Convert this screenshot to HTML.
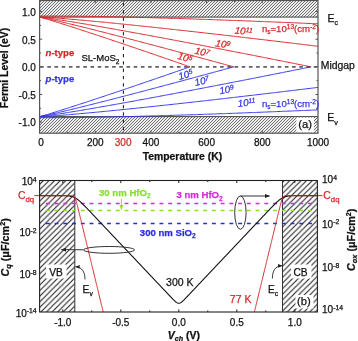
<!DOCTYPE html><html><head><meta charset="utf-8"><style>html,body{margin:0;padding:0;background:#fff;}svg{display:block;filter:blur(0.25px)}</style></head><body>
<svg width="358" height="341" viewBox="0 0 358 341" font-family="Liberation Sans, sans-serif">
<defs>
<pattern id="hA" patternUnits="userSpaceOnUse" width="3" height="3"><rect width="3" height="3" fill="#eeeeee"/><path d="M-1,1 L1,-1 M0,3 L3,0 M2,4 L4,2" stroke="#505050" stroke-width="0.8"/></pattern>
<pattern id="hB" patternUnits="userSpaceOnUse" width="5.6" height="5.6"><path d="M-1,1 L1,-1 M0,5.6 L5.6,0 M4.6,6.6 L6.6,4.6" stroke="#222" stroke-width="1.1"/></pattern>
<marker id="arr" viewBox="0 0 10 10" refX="9" refY="5" markerWidth="5" markerHeight="5" orient="auto-start-reverse"><path d="M0,1 L10,5 L0,9 z" fill="#222"/></marker>
<marker id="arrg" viewBox="0 0 10 10" refX="9" refY="5" markerWidth="5" markerHeight="5" orient="auto"><path d="M0,1 L10,5 L0,9 z" fill="#84e22a"/></marker>
<clipPath id="cA"><rect x="39.60" y="0.50" width="278.40" height="132.70"/></clipPath>
<clipPath id="cB"><rect x="39.60" y="180.50" width="277.80" height="131.50"/></clipPath>
</defs>
<rect x="39.60" y="0.50" width="278.40" height="16.59" fill="url(#hA)"/>
<rect x="39.60" y="116.61" width="278.40" height="16.59" fill="url(#hA)"/>
<line x1="39.60" y1="17.09" x2="318.00" y2="17.09" stroke="#444" stroke-width="1"/>
<line x1="39.60" y1="116.61" x2="318.00" y2="116.61" stroke="#444" stroke-width="1"/>
<rect x="296.3" y="117.6" width="17.6" height="15" fill="#fff"/>
<line x1="40.10" y1="66.85" x2="318.00" y2="66.85" stroke="#606060" stroke-width="1.7" stroke-dasharray="3.6 3.6"/>
<line x1="123.4" y1="0.50" x2="123.4" y2="133.20" stroke="#111" stroke-width="1" stroke-dasharray="3.3 4" stroke-dashoffset="-2.4"/>
<g clip-path="url(#cA)" fill="none" stroke-width="1">
<path d="M39.60,17.09 L40.71,17.36 L41.83,17.66 L42.94,17.98 L44.05,18.29 L45.17,18.62 L46.28,18.94 L47.40,19.27 L48.51,19.60 L49.62,19.94 L50.74,20.28 L51.85,20.61 L52.96,20.95 L54.08,21.30 L55.19,21.64 L56.30,21.99 L57.42,22.33 L58.53,22.68 L59.64,23.03 L60.76,23.38 L61.87,23.73 L62.99,24.08 L64.10,24.43 L65.21,24.78 L66.33,25.14 L67.44,25.49 L68.55,25.85 L69.67,26.21 L70.78,26.56 L71.89,26.92 L73.01,27.28 L74.12,27.64 L75.24,28.00 L76.35,28.36 L77.46,28.72 L78.58,29.08 L79.69,29.44 L80.80,29.81 L81.92,30.17 L83.03,30.53 L84.14,30.90 L85.26,31.26 L86.37,31.63 L87.48,31.99 L88.60,32.36 L89.71,32.72 L90.83,33.09 L91.94,33.46 L93.05,33.82 L94.17,34.19 L95.28,34.56 L96.39,34.93 L97.51,35.30 L98.62,35.67 L99.73,36.04 L100.85,36.41 L101.96,36.78 L103.08,37.15 L104.19,37.52 L105.30,37.89 L106.42,38.26 L107.53,38.64 L108.64,39.01 L109.76,39.38 L110.87,39.75 L111.98,40.13 L113.10,40.50 L114.21,40.88 L115.32,41.25 L116.44,41.62 L117.55,42.00 L118.67,42.37 L119.78,42.75 L120.89,43.13 L122.01,43.50 L123.12,43.88 L124.23,44.25 L125.35,44.63 L126.46,45.01 L127.57,45.38 L128.69,45.76 L129.80,46.14 L130.92,46.52 L132.03,46.90 L133.14,47.27 L134.26,47.65 L135.37,48.03 L136.48,48.41 L137.60,48.79 L138.71,49.17 L139.82,49.55 L140.94,49.93 L142.05,50.31 L143.16,50.69 L144.28,51.07 L145.39,51.45 L146.51,51.83 L147.62,52.21 L148.73,52.59 L149.85,52.97 L150.96,53.36 L152.07,53.74 L153.19,54.12 L154.30,54.50 L155.41,54.88 L156.53,55.27 L157.64,55.65 L158.76,56.03 L159.87,56.42 L160.98,56.80 L162.10,57.18 L163.21,57.57 L164.32,57.95 L165.44,58.33 L166.55,58.72 L167.66,59.10 L168.78,59.49 L169.89,59.87 L171.00,60.26 L172.12,60.64 L173.23,61.03 L174.35,61.41 L175.46,61.80 L176.57,62.18 L177.69,62.57 L178.80,62.95 L179.91,63.34 L181.03,63.73 L182.14,64.11 L183.25,64.50 L184.37,64.89 L185.48,65.27 L186.60,65.66 L187.71,66.05 L188.82,66.43 L189.94,66.82 L190.02,66.85" stroke="#d8262a"/>
<path d="M39.60,116.61 L40.71,116.34 L41.83,116.04 L42.94,115.72 L44.05,115.41 L45.17,115.08 L46.28,114.76 L47.40,114.43 L48.51,114.10 L49.62,113.76 L50.74,113.42 L51.85,113.09 L52.96,112.75 L54.08,112.40 L55.19,112.06 L56.30,111.71 L57.42,111.37 L58.53,111.02 L59.64,110.67 L60.76,110.32 L61.87,109.97 L62.99,109.62 L64.10,109.27 L65.21,108.92 L66.33,108.56 L67.44,108.21 L68.55,107.85 L69.67,107.49 L70.78,107.14 L71.89,106.78 L73.01,106.42 L74.12,106.06 L75.24,105.70 L76.35,105.34 L77.46,104.98 L78.58,104.62 L79.69,104.26 L80.80,103.89 L81.92,103.53 L83.03,103.17 L84.14,102.80 L85.26,102.44 L86.37,102.07 L87.48,101.71 L88.60,101.34 L89.71,100.98 L90.83,100.61 L91.94,100.24 L93.05,99.88 L94.17,99.51 L95.28,99.14 L96.39,98.77 L97.51,98.40 L98.62,98.03 L99.73,97.66 L100.85,97.29 L101.96,96.92 L103.08,96.55 L104.19,96.18 L105.30,95.81 L106.42,95.44 L107.53,95.06 L108.64,94.69 L109.76,94.32 L110.87,93.95 L111.98,93.57 L113.10,93.20 L114.21,92.82 L115.32,92.45 L116.44,92.08 L117.55,91.70 L118.67,91.33 L119.78,90.95 L120.89,90.57 L122.01,90.20 L123.12,89.82 L124.23,89.45 L125.35,89.07 L126.46,88.69 L127.57,88.32 L128.69,87.94 L129.80,87.56 L130.92,87.18 L132.03,86.80 L133.14,86.43 L134.26,86.05 L135.37,85.67 L136.48,85.29 L137.60,84.91 L138.71,84.53 L139.82,84.15 L140.94,83.77 L142.05,83.39 L143.16,83.01 L144.28,82.63 L145.39,82.25 L146.51,81.87 L147.62,81.49 L148.73,81.11 L149.85,80.73 L150.96,80.34 L152.07,79.96 L153.19,79.58 L154.30,79.20 L155.41,78.82 L156.53,78.43 L157.64,78.05 L158.76,77.67 L159.87,77.28 L160.98,76.90 L162.10,76.52 L163.21,76.13 L164.32,75.75 L165.44,75.37 L166.55,74.98 L167.66,74.60 L168.78,74.21 L169.89,73.83 L171.00,73.44 L172.12,73.06 L173.23,72.67 L174.35,72.29 L175.46,71.90 L176.57,71.52 L177.69,71.13 L178.80,70.75 L179.91,70.36 L181.03,69.97 L182.14,69.59 L183.25,69.20 L184.37,68.81 L185.48,68.43 L186.60,68.04 L187.71,67.65 L188.82,67.27 L189.94,66.88 L190.02,66.85" stroke="#3434ec"/>
<path d="M39.60,17.09 L40.71,17.27 L41.83,17.49 L42.94,17.71 L44.05,17.94 L45.17,18.18 L46.28,18.42 L47.40,18.66 L48.51,18.90 L49.62,19.15 L50.74,19.40 L51.85,19.65 L52.96,19.90 L54.08,20.16 L55.19,20.41 L56.30,20.67 L57.42,20.93 L58.53,21.19 L59.64,21.45 L60.76,21.71 L61.87,21.97 L62.99,22.24 L64.10,22.50 L65.21,22.77 L66.33,23.03 L67.44,23.30 L68.55,23.57 L69.67,23.84 L70.78,24.11 L71.89,24.38 L73.01,24.65 L74.12,24.92 L75.24,25.19 L76.35,25.46 L77.46,25.74 L78.58,26.01 L79.69,26.28 L80.80,26.56 L81.92,26.83 L83.03,27.11 L84.14,27.39 L85.26,27.66 L86.37,27.94 L87.48,28.22 L88.60,28.50 L89.71,28.77 L90.83,29.05 L91.94,29.33 L93.05,29.61 L94.17,29.89 L95.28,30.17 L96.39,30.45 L97.51,30.74 L98.62,31.02 L99.73,31.30 L100.85,31.58 L101.96,31.86 L103.08,32.15 L104.19,32.43 L105.30,32.71 L106.42,33.00 L107.53,33.28 L108.64,33.57 L109.76,33.85 L110.87,34.14 L111.98,34.42 L113.10,34.71 L114.21,35.00 L115.32,35.28 L116.44,35.57 L117.55,35.86 L118.67,36.14 L119.78,36.43 L120.89,36.72 L122.01,37.01 L123.12,37.29 L124.23,37.58 L125.35,37.87 L126.46,38.16 L127.57,38.45 L128.69,38.74 L129.80,39.03 L130.92,39.32 L132.03,39.61 L133.14,39.90 L134.26,40.19 L135.37,40.48 L136.48,40.77 L137.60,41.07 L138.71,41.36 L139.82,41.65 L140.94,41.94 L142.05,42.23 L143.16,42.53 L144.28,42.82 L145.39,43.11 L146.51,43.40 L147.62,43.70 L148.73,43.99 L149.85,44.29 L150.96,44.58 L152.07,44.87 L153.19,45.17 L154.30,45.46 L155.41,45.76 L156.53,46.05 L157.64,46.35 L158.76,46.64 L159.87,46.94 L160.98,47.23 L162.10,47.53 L163.21,47.82 L164.32,48.12 L165.44,48.42 L166.55,48.71 L167.66,49.01 L168.78,49.31 L169.89,49.60 L171.00,49.90 L172.12,50.20 L173.23,50.49 L174.35,50.79 L175.46,51.09 L176.57,51.39 L177.69,51.69 L178.80,51.98 L179.91,52.28 L181.03,52.58 L182.14,52.88 L183.25,53.18 L184.37,53.48 L185.48,53.78 L186.60,54.07 L187.71,54.37 L188.82,54.67 L189.94,54.97 L191.05,55.27 L192.16,55.57 L193.28,55.87 L194.39,56.17 L195.50,56.47 L196.62,56.77 L197.73,57.07 L198.84,57.38 L199.96,57.68 L201.07,57.98 L202.19,58.28 L203.30,58.58 L204.41,58.88 L205.53,59.18 L206.64,59.48 L207.75,59.79 L208.87,60.09 L209.98,60.39 L211.09,60.69 L212.21,60.99 L213.32,61.30 L214.44,61.60 L215.55,61.90 L216.66,62.20 L217.78,62.51 L218.89,62.81 L220.00,63.11 L221.12,63.42 L222.23,63.72 L223.34,64.02 L224.46,64.33 L225.57,64.63 L226.68,64.93 L227.80,65.24 L228.91,65.54 L230.03,65.85 L231.14,66.15 L232.25,66.46 L233.37,66.76 L233.70,66.85" stroke="#d8262a"/>
<path d="M39.60,116.61 L40.71,116.43 L41.83,116.21 L42.94,115.99 L44.05,115.76 L45.17,115.52 L46.28,115.28 L47.40,115.04 L48.51,114.80 L49.62,114.55 L50.74,114.30 L51.85,114.05 L52.96,113.80 L54.08,113.54 L55.19,113.29 L56.30,113.03 L57.42,112.77 L58.53,112.51 L59.64,112.25 L60.76,111.99 L61.87,111.73 L62.99,111.46 L64.10,111.20 L65.21,110.93 L66.33,110.67 L67.44,110.40 L68.55,110.13 L69.67,109.86 L70.78,109.59 L71.89,109.32 L73.01,109.05 L74.12,108.78 L75.24,108.51 L76.35,108.24 L77.46,107.96 L78.58,107.69 L79.69,107.42 L80.80,107.14 L81.92,106.87 L83.03,106.59 L84.14,106.31 L85.26,106.04 L86.37,105.76 L87.48,105.48 L88.60,105.20 L89.71,104.93 L90.83,104.65 L91.94,104.37 L93.05,104.09 L94.17,103.81 L95.28,103.53 L96.39,103.25 L97.51,102.96 L98.62,102.68 L99.73,102.40 L100.85,102.12 L101.96,101.84 L103.08,101.55 L104.19,101.27 L105.30,100.99 L106.42,100.70 L107.53,100.42 L108.64,100.13 L109.76,99.85 L110.87,99.56 L111.98,99.28 L113.10,98.99 L114.21,98.70 L115.32,98.42 L116.44,98.13 L117.55,97.84 L118.67,97.56 L119.78,97.27 L120.89,96.98 L122.01,96.69 L123.12,96.41 L124.23,96.12 L125.35,95.83 L126.46,95.54 L127.57,95.25 L128.69,94.96 L129.80,94.67 L130.92,94.38 L132.03,94.09 L133.14,93.80 L134.26,93.51 L135.37,93.22 L136.48,92.93 L137.60,92.63 L138.71,92.34 L139.82,92.05 L140.94,91.76 L142.05,91.47 L143.16,91.17 L144.28,90.88 L145.39,90.59 L146.51,90.30 L147.62,90.00 L148.73,89.71 L149.85,89.41 L150.96,89.12 L152.07,88.83 L153.19,88.53 L154.30,88.24 L155.41,87.94 L156.53,87.65 L157.64,87.35 L158.76,87.06 L159.87,86.76 L160.98,86.47 L162.10,86.17 L163.21,85.88 L164.32,85.58 L165.44,85.28 L166.55,84.99 L167.66,84.69 L168.78,84.39 L169.89,84.10 L171.00,83.80 L172.12,83.50 L173.23,83.21 L174.35,82.91 L175.46,82.61 L176.57,82.31 L177.69,82.01 L178.80,81.72 L179.91,81.42 L181.03,81.12 L182.14,80.82 L183.25,80.52 L184.37,80.22 L185.48,79.92 L186.60,79.63 L187.71,79.33 L188.82,79.03 L189.94,78.73 L191.05,78.43 L192.16,78.13 L193.28,77.83 L194.39,77.53 L195.50,77.23 L196.62,76.93 L197.73,76.63 L198.84,76.32 L199.96,76.02 L201.07,75.72 L202.19,75.42 L203.30,75.12 L204.41,74.82 L205.53,74.52 L206.64,74.22 L207.75,73.91 L208.87,73.61 L209.98,73.31 L211.09,73.01 L212.21,72.71 L213.32,72.40 L214.44,72.10 L215.55,71.80 L216.66,71.50 L217.78,71.19 L218.89,70.89 L220.00,70.59 L221.12,70.28 L222.23,69.98 L223.34,69.68 L224.46,69.37 L225.57,69.07 L226.68,68.77 L227.80,68.46 L228.91,68.16 L230.03,67.85 L231.14,67.55 L232.25,67.24 L233.37,66.94 L233.70,66.85" stroke="#3434ec"/>
<path d="M39.60,17.09 L40.71,17.19 L41.83,17.31 L42.94,17.45 L44.05,17.59 L45.17,17.74 L46.28,17.89 L47.40,18.04 L48.51,18.20 L49.62,18.36 L50.74,18.52 L51.85,18.68 L52.96,18.85 L54.08,19.01 L55.19,19.18 L56.30,19.35 L57.42,19.52 L58.53,19.69 L59.64,19.87 L60.76,20.04 L61.87,20.22 L62.99,20.39 L64.10,20.57 L65.21,20.75 L66.33,20.93 L67.44,21.11 L68.55,21.29 L69.67,21.47 L70.78,21.65 L71.89,21.83 L73.01,22.01 L74.12,22.20 L75.24,22.38 L76.35,22.57 L77.46,22.75 L78.58,22.94 L79.69,23.12 L80.80,23.31 L81.92,23.50 L83.03,23.69 L84.14,23.87 L85.26,24.06 L86.37,24.25 L87.48,24.44 L88.60,24.63 L89.71,24.82 L90.83,25.02 L91.94,25.21 L93.05,25.40 L94.17,25.59 L95.28,25.78 L96.39,25.98 L97.51,26.17 L98.62,26.37 L99.73,26.56 L100.85,26.75 L101.96,26.95 L103.08,27.14 L104.19,27.34 L105.30,27.54 L106.42,27.73 L107.53,27.93 L108.64,28.13 L109.76,28.32 L110.87,28.52 L111.98,28.72 L113.10,28.92 L114.21,29.12 L115.32,29.31 L116.44,29.51 L117.55,29.71 L118.67,29.91 L119.78,30.11 L120.89,30.31 L122.01,30.51 L123.12,30.71 L124.23,30.91 L125.35,31.11 L126.46,31.32 L127.57,31.52 L128.69,31.72 L129.80,31.92 L130.92,32.12 L132.03,32.33 L133.14,32.53 L134.26,32.73 L135.37,32.94 L136.48,33.14 L137.60,33.34 L138.71,33.55 L139.82,33.75 L140.94,33.95 L142.05,34.16 L143.16,34.36 L144.28,34.57 L145.39,34.77 L146.51,34.98 L147.62,35.18 L148.73,35.39 L149.85,35.60 L150.96,35.80 L152.07,36.01 L153.19,36.22 L154.30,36.42 L155.41,36.63 L156.53,36.84 L157.64,37.04 L158.76,37.25 L159.87,37.46 L160.98,37.67 L162.10,37.87 L163.21,38.08 L164.32,38.29 L165.44,38.50 L166.55,38.71 L167.66,38.92 L168.78,39.13 L169.89,39.33 L171.00,39.54 L172.12,39.75 L173.23,39.96 L174.35,40.17 L175.46,40.38 L176.57,40.59 L177.69,40.80 L178.80,41.01 L179.91,41.22 L181.03,41.43 L182.14,41.64 L183.25,41.86 L184.37,42.07 L185.48,42.28 L186.60,42.49 L187.71,42.70 L188.82,42.91 L189.94,43.12 L191.05,43.34 L192.16,43.55 L193.28,43.76 L194.39,43.97 L195.50,44.19 L196.62,44.40 L197.73,44.61 L198.84,44.82 L199.96,45.04 L201.07,45.25 L202.19,45.46 L203.30,45.68 L204.41,45.89 L205.53,46.11 L206.64,46.32 L207.75,46.53 L208.87,46.75 L209.98,46.96 L211.09,47.18 L212.21,47.39 L213.32,47.61 L214.44,47.82 L215.55,48.03 L216.66,48.25 L217.78,48.46 L218.89,48.68 L220.00,48.90 L221.12,49.11 L222.23,49.33 L223.34,49.54 L224.46,49.76 L225.57,49.97 L226.68,50.19 L227.80,50.41 L228.91,50.62 L230.03,50.84 L231.14,51.06 L232.25,51.27 L233.37,51.49 L234.48,51.71 L235.59,51.92 L236.71,52.14 L237.82,52.36 L238.93,52.57 L240.05,52.79 L241.16,53.01 L242.28,53.23 L243.39,53.44 L244.50,53.66 L245.62,53.88 L246.73,54.10 L247.84,54.32 L248.96,54.53 L250.07,54.75 L251.18,54.97 L252.30,55.19 L253.41,55.41 L254.52,55.63 L255.64,55.84 L256.75,56.06 L257.87,56.28 L258.98,56.50 L260.09,56.72 L261.21,56.94 L262.32,57.16 L263.43,57.38 L264.55,57.60 L265.66,57.82 L266.77,58.04 L267.89,58.26 L269.00,58.48 L270.12,58.70 L271.23,58.92 L272.34,59.14 L273.46,59.36 L274.57,59.58 L275.68,59.80 L276.80,60.02 L277.91,60.24 L279.02,60.46 L280.14,60.68 L281.25,60.90 L282.36,61.12 L283.48,61.35 L284.59,61.57 L285.71,61.79 L286.82,62.01 L287.93,62.23 L289.05,62.45 L290.16,62.67 L291.27,62.90 L292.39,63.12 L293.50,63.34 L294.61,63.56 L295.73,63.78 L296.84,64.01 L297.96,64.23 L299.07,64.45 L300.18,64.67 L301.30,64.89 L302.41,65.12 L303.52,65.34 L304.64,65.56 L305.75,65.79 L306.86,66.01 L307.98,66.23 L309.09,66.45 L310.20,66.68 L311.07,66.85" stroke="#d8262a"/>
<path d="M39.60,116.61 L40.71,116.51 L41.83,116.39 L42.94,116.25 L44.05,116.11 L45.17,115.96 L46.28,115.81 L47.40,115.66 L48.51,115.50 L49.62,115.34 L50.74,115.18 L51.85,115.02 L52.96,114.85 L54.08,114.69 L55.19,114.52 L56.30,114.35 L57.42,114.18 L58.53,114.01 L59.64,113.83 L60.76,113.66 L61.87,113.48 L62.99,113.31 L64.10,113.13 L65.21,112.95 L66.33,112.77 L67.44,112.59 L68.55,112.41 L69.67,112.23 L70.78,112.05 L71.89,111.87 L73.01,111.69 L74.12,111.50 L75.24,111.32 L76.35,111.13 L77.46,110.95 L78.58,110.76 L79.69,110.58 L80.80,110.39 L81.92,110.20 L83.03,110.01 L84.14,109.83 L85.26,109.64 L86.37,109.45 L87.48,109.26 L88.60,109.07 L89.71,108.88 L90.83,108.68 L91.94,108.49 L93.05,108.30 L94.17,108.11 L95.28,107.92 L96.39,107.72 L97.51,107.53 L98.62,107.33 L99.73,107.14 L100.85,106.95 L101.96,106.75 L103.08,106.56 L104.19,106.36 L105.30,106.16 L106.42,105.97 L107.53,105.77 L108.64,105.57 L109.76,105.38 L110.87,105.18 L111.98,104.98 L113.10,104.78 L114.21,104.58 L115.32,104.39 L116.44,104.19 L117.55,103.99 L118.67,103.79 L119.78,103.59 L120.89,103.39 L122.01,103.19 L123.12,102.99 L124.23,102.79 L125.35,102.59 L126.46,102.38 L127.57,102.18 L128.69,101.98 L129.80,101.78 L130.92,101.58 L132.03,101.37 L133.14,101.17 L134.26,100.97 L135.37,100.76 L136.48,100.56 L137.60,100.36 L138.71,100.15 L139.82,99.95 L140.94,99.75 L142.05,99.54 L143.16,99.34 L144.28,99.13 L145.39,98.93 L146.51,98.72 L147.62,98.52 L148.73,98.31 L149.85,98.10 L150.96,97.90 L152.07,97.69 L153.19,97.48 L154.30,97.28 L155.41,97.07 L156.53,96.86 L157.64,96.66 L158.76,96.45 L159.87,96.24 L160.98,96.03 L162.10,95.83 L163.21,95.62 L164.32,95.41 L165.44,95.20 L166.55,94.99 L167.66,94.78 L168.78,94.57 L169.89,94.37 L171.00,94.16 L172.12,93.95 L173.23,93.74 L174.35,93.53 L175.46,93.32 L176.57,93.11 L177.69,92.90 L178.80,92.69 L179.91,92.48 L181.03,92.27 L182.14,92.06 L183.25,91.84 L184.37,91.63 L185.48,91.42 L186.60,91.21 L187.71,91.00 L188.82,90.79 L189.94,90.58 L191.05,90.36 L192.16,90.15 L193.28,89.94 L194.39,89.73 L195.50,89.51 L196.62,89.30 L197.73,89.09 L198.84,88.88 L199.96,88.66 L201.07,88.45 L202.19,88.24 L203.30,88.02 L204.41,87.81 L205.53,87.59 L206.64,87.38 L207.75,87.17 L208.87,86.95 L209.98,86.74 L211.09,86.52 L212.21,86.31 L213.32,86.09 L214.44,85.88 L215.55,85.67 L216.66,85.45 L217.78,85.24 L218.89,85.02 L220.00,84.80 L221.12,84.59 L222.23,84.37 L223.34,84.16 L224.46,83.94 L225.57,83.73 L226.68,83.51 L227.80,83.29 L228.91,83.08 L230.03,82.86 L231.14,82.64 L232.25,82.43 L233.37,82.21 L234.48,81.99 L235.59,81.78 L236.71,81.56 L237.82,81.34 L238.93,81.13 L240.05,80.91 L241.16,80.69 L242.28,80.47 L243.39,80.26 L244.50,80.04 L245.62,79.82 L246.73,79.60 L247.84,79.38 L248.96,79.17 L250.07,78.95 L251.18,78.73 L252.30,78.51 L253.41,78.29 L254.52,78.07 L255.64,77.86 L256.75,77.64 L257.87,77.42 L258.98,77.20 L260.09,76.98 L261.21,76.76 L262.32,76.54 L263.43,76.32 L264.55,76.10 L265.66,75.88 L266.77,75.66 L267.89,75.44 L269.00,75.22 L270.12,75.00 L271.23,74.78 L272.34,74.56 L273.46,74.34 L274.57,74.12 L275.68,73.90 L276.80,73.68 L277.91,73.46 L279.02,73.24 L280.14,73.02 L281.25,72.80 L282.36,72.58 L283.48,72.35 L284.59,72.13 L285.71,71.91 L286.82,71.69 L287.93,71.47 L289.05,71.25 L290.16,71.03 L291.27,70.80 L292.39,70.58 L293.50,70.36 L294.61,70.14 L295.73,69.92 L296.84,69.69 L297.96,69.47 L299.07,69.25 L300.18,69.03 L301.30,68.81 L302.41,68.58 L303.52,68.36 L304.64,68.14 L305.75,67.91 L306.86,67.69 L307.98,67.47 L309.09,67.25 L310.20,67.02 L311.07,66.85" stroke="#3434ec"/>
<path d="M39.60,17.09 L40.71,17.09 L41.83,17.13 L42.94,17.18 L44.05,17.23 L45.17,17.29 L46.28,17.36 L47.40,17.42 L48.51,17.49 L49.62,17.56 L50.74,17.64 L51.85,17.71 L52.96,17.79 L54.08,17.87 L55.19,17.95 L56.30,18.03 L57.42,18.11 L58.53,18.20 L59.64,18.28 L60.76,18.37 L61.87,18.46 L62.99,18.54 L64.10,18.63 L65.21,18.72 L66.33,18.81 L67.44,18.91 L68.55,19.00 L69.67,19.09 L70.78,19.19 L71.89,19.28 L73.01,19.38 L74.12,19.47 L75.24,19.57 L76.35,19.66 L77.46,19.76 L78.58,19.86 L79.69,19.96 L80.80,20.06 L81.92,20.16 L83.03,20.26 L84.14,20.36 L85.26,20.46 L86.37,20.56 L87.48,20.66 L88.60,20.77 L89.71,20.87 L90.83,20.97 L91.94,21.08 L93.05,21.18 L94.17,21.29 L95.28,21.39 L96.39,21.50 L97.51,21.60 L98.62,21.71 L99.73,21.82 L100.85,21.92 L101.96,22.03 L103.08,22.14 L104.19,22.24 L105.30,22.35 L106.42,22.46 L107.53,22.57 L108.64,22.68 L109.76,22.79 L110.87,22.90 L111.98,23.01 L113.10,23.12 L114.21,23.23 L115.32,23.34 L116.44,23.45 L117.55,23.56 L118.67,23.68 L119.78,23.79 L120.89,23.90 L122.01,24.01 L123.12,24.13 L124.23,24.24 L125.35,24.35 L126.46,24.47 L127.57,24.58 L128.69,24.69 L129.80,24.81 L130.92,24.92 L132.03,25.04 L133.14,25.15 L134.26,25.27 L135.37,25.38 L136.48,25.50 L137.60,25.61 L138.71,25.73 L139.82,25.85 L140.94,25.96 L142.05,26.08 L143.16,26.20 L144.28,26.31 L145.39,26.43 L146.51,26.55 L147.62,26.67 L148.73,26.78 L149.85,26.90 L150.96,27.02 L152.07,27.14 L153.19,27.26 L154.30,27.38 L155.41,27.50 L156.53,27.62 L157.64,27.73 L158.76,27.85 L159.87,27.97 L160.98,28.09 L162.10,28.21 L163.21,28.33 L164.32,28.46 L165.44,28.58 L166.55,28.70 L167.66,28.82 L168.78,28.94 L169.89,29.06 L171.00,29.18 L172.12,29.30 L173.23,29.43 L174.35,29.55 L175.46,29.67 L176.57,29.79 L177.69,29.91 L178.80,30.04 L179.91,30.16 L181.03,30.28 L182.14,30.41 L183.25,30.53 L184.37,30.65 L185.48,30.78 L186.60,30.90 L187.71,31.02 L188.82,31.15 L189.94,31.27 L191.05,31.40 L192.16,31.52 L193.28,31.64 L194.39,31.77 L195.50,31.89 L196.62,32.02 L197.73,32.14 L198.84,32.27 L199.96,32.39 L201.07,32.52 L202.19,32.65 L203.30,32.77 L204.41,32.90 L205.53,33.02 L206.64,33.15 L207.75,33.28 L208.87,33.40 L209.98,33.53 L211.09,33.65 L212.21,33.78 L213.32,33.91 L214.44,34.04 L215.55,34.16 L216.66,34.29 L217.78,34.42 L218.89,34.54 L220.00,34.67 L221.12,34.80 L222.23,34.93 L223.34,35.06 L224.46,35.18 L225.57,35.31 L226.68,35.44 L227.80,35.57 L228.91,35.70 L230.03,35.83 L231.14,35.95 L232.25,36.08 L233.37,36.21 L234.48,36.34 L235.59,36.47 L236.71,36.60 L237.82,36.73 L238.93,36.86 L240.05,36.99 L241.16,37.12 L242.28,37.25 L243.39,37.38 L244.50,37.51 L245.62,37.64 L246.73,37.77 L247.84,37.90 L248.96,38.03 L250.07,38.16 L251.18,38.29 L252.30,38.42 L253.41,38.55 L254.52,38.68 L255.64,38.81 L256.75,38.94 L257.87,39.08 L258.98,39.21 L260.09,39.34 L261.21,39.47 L262.32,39.60 L263.43,39.73 L264.55,39.86 L265.66,40.00 L266.77,40.13 L267.89,40.26 L269.00,40.39 L270.12,40.53 L271.23,40.66 L272.34,40.79 L273.46,40.92 L274.57,41.06 L275.68,41.19 L276.80,41.32 L277.91,41.45 L279.02,41.59 L280.14,41.72 L281.25,41.85 L282.36,41.99 L283.48,42.12 L284.59,42.25 L285.71,42.39 L286.82,42.52 L287.93,42.65 L289.05,42.79 L290.16,42.92 L291.27,43.06 L292.39,43.19 L293.50,43.32 L294.61,43.46 L295.73,43.59 L296.84,43.73 L297.96,43.86 L299.07,44.00 L300.18,44.13 L301.30,44.26 L302.41,44.40 L303.52,44.53 L304.64,44.67 L305.75,44.80 L306.86,44.94 L307.98,45.07 L309.09,45.21 L310.20,45.34 L311.32,45.48 L312.43,45.62 L313.55,45.75 L314.66,45.89 L315.77,46.02 L316.89,46.16 L318.00,46.29" stroke="#d8262a"/>
<path d="M39.60,116.61 L40.71,116.61 L41.83,116.57 L42.94,116.52 L44.05,116.47 L45.17,116.41 L46.28,116.34 L47.40,116.28 L48.51,116.21 L49.62,116.14 L50.74,116.06 L51.85,115.99 L52.96,115.91 L54.08,115.83 L55.19,115.75 L56.30,115.67 L57.42,115.59 L58.53,115.50 L59.64,115.42 L60.76,115.33 L61.87,115.24 L62.99,115.16 L64.10,115.07 L65.21,114.98 L66.33,114.89 L67.44,114.79 L68.55,114.70 L69.67,114.61 L70.78,114.51 L71.89,114.42 L73.01,114.32 L74.12,114.23 L75.24,114.13 L76.35,114.04 L77.46,113.94 L78.58,113.84 L79.69,113.74 L80.80,113.64 L81.92,113.54 L83.03,113.44 L84.14,113.34 L85.26,113.24 L86.37,113.14 L87.48,113.04 L88.60,112.93 L89.71,112.83 L90.83,112.73 L91.94,112.62 L93.05,112.52 L94.17,112.41 L95.28,112.31 L96.39,112.20 L97.51,112.10 L98.62,111.99 L99.73,111.88 L100.85,111.78 L101.96,111.67 L103.08,111.56 L104.19,111.46 L105.30,111.35 L106.42,111.24 L107.53,111.13 L108.64,111.02 L109.76,110.91 L110.87,110.80 L111.98,110.69 L113.10,110.58 L114.21,110.47 L115.32,110.36 L116.44,110.25 L117.55,110.14 L118.67,110.02 L119.78,109.91 L120.89,109.80 L122.01,109.69 L123.12,109.57 L124.23,109.46 L125.35,109.35 L126.46,109.23 L127.57,109.12 L128.69,109.01 L129.80,108.89 L130.92,108.78 L132.03,108.66 L133.14,108.55 L134.26,108.43 L135.37,108.32 L136.48,108.20 L137.60,108.09 L138.71,107.97 L139.82,107.85 L140.94,107.74 L142.05,107.62 L143.16,107.50 L144.28,107.39 L145.39,107.27 L146.51,107.15 L147.62,107.03 L148.73,106.92 L149.85,106.80 L150.96,106.68 L152.07,106.56 L153.19,106.44 L154.30,106.32 L155.41,106.20 L156.53,106.08 L157.64,105.97 L158.76,105.85 L159.87,105.73 L160.98,105.61 L162.10,105.49 L163.21,105.37 L164.32,105.24 L165.44,105.12 L166.55,105.00 L167.66,104.88 L168.78,104.76 L169.89,104.64 L171.00,104.52 L172.12,104.40 L173.23,104.27 L174.35,104.15 L175.46,104.03 L176.57,103.91 L177.69,103.79 L178.80,103.66 L179.91,103.54 L181.03,103.42 L182.14,103.29 L183.25,103.17 L184.37,103.05 L185.48,102.92 L186.60,102.80 L187.71,102.68 L188.82,102.55 L189.94,102.43 L191.05,102.30 L192.16,102.18 L193.28,102.06 L194.39,101.93 L195.50,101.81 L196.62,101.68 L197.73,101.56 L198.84,101.43 L199.96,101.31 L201.07,101.18 L202.19,101.05 L203.30,100.93 L204.41,100.80 L205.53,100.68 L206.64,100.55 L207.75,100.42 L208.87,100.30 L209.98,100.17 L211.09,100.05 L212.21,99.92 L213.32,99.79 L214.44,99.66 L215.55,99.54 L216.66,99.41 L217.78,99.28 L218.89,99.16 L220.00,99.03 L221.12,98.90 L222.23,98.77 L223.34,98.64 L224.46,98.52 L225.57,98.39 L226.68,98.26 L227.80,98.13 L228.91,98.00 L230.03,97.87 L231.14,97.75 L232.25,97.62 L233.37,97.49 L234.48,97.36 L235.59,97.23 L236.71,97.10 L237.82,96.97 L238.93,96.84 L240.05,96.71 L241.16,96.58 L242.28,96.45 L243.39,96.32 L244.50,96.19 L245.62,96.06 L246.73,95.93 L247.84,95.80 L248.96,95.67 L250.07,95.54 L251.18,95.41 L252.30,95.28 L253.41,95.15 L254.52,95.02 L255.64,94.89 L256.75,94.76 L257.87,94.62 L258.98,94.49 L260.09,94.36 L261.21,94.23 L262.32,94.10 L263.43,93.97 L264.55,93.84 L265.66,93.70 L266.77,93.57 L267.89,93.44 L269.00,93.31 L270.12,93.17 L271.23,93.04 L272.34,92.91 L273.46,92.78 L274.57,92.64 L275.68,92.51 L276.80,92.38 L277.91,92.25 L279.02,92.11 L280.14,91.98 L281.25,91.85 L282.36,91.71 L283.48,91.58 L284.59,91.45 L285.71,91.31 L286.82,91.18 L287.93,91.05 L289.05,90.91 L290.16,90.78 L291.27,90.64 L292.39,90.51 L293.50,90.38 L294.61,90.24 L295.73,90.11 L296.84,89.97 L297.96,89.84 L299.07,89.70 L300.18,89.57 L301.30,89.44 L302.41,89.30 L303.52,89.17 L304.64,89.03 L305.75,88.90 L306.86,88.76 L307.98,88.63 L309.09,88.49 L310.20,88.36 L311.32,88.22 L312.43,88.08 L313.55,87.95 L314.66,87.81 L315.77,87.68 L316.89,87.54 L318.00,87.41" stroke="#3434ec"/>
<path d="M39.60,17.09 L40.71,16.05 L41.83,16.05 L42.94,16.05 L44.05,16.05 L45.17,16.05 L46.28,16.05 L47.40,16.05 L48.51,16.05 L49.62,16.05 L50.74,16.05 L51.85,16.05 L52.96,16.05 L54.08,16.06 L55.19,16.06 L56.30,16.06 L57.42,16.06 L58.53,16.07 L59.64,16.07 L60.76,16.07 L61.87,16.08 L62.99,16.08 L64.10,16.09 L65.21,16.10 L66.33,16.10 L67.44,16.11 L68.55,16.12 L69.67,16.13 L70.78,16.13 L71.89,16.14 L73.01,16.15 L74.12,16.16 L75.24,16.17 L76.35,16.19 L77.46,16.20 L78.58,16.21 L79.69,16.22 L80.80,16.24 L81.92,16.25 L83.03,16.26 L84.14,16.28 L85.26,16.29 L86.37,16.31 L87.48,16.32 L88.60,16.34 L89.71,16.36 L90.83,16.37 L91.94,16.39 L93.05,16.41 L94.17,16.43 L95.28,16.44 L96.39,16.46 L97.51,16.48 L98.62,16.50 L99.73,16.52 L100.85,16.54 L101.96,16.56 L103.08,16.58 L104.19,16.60 L105.30,16.62 L106.42,16.64 L107.53,16.67 L108.64,16.69 L109.76,16.71 L110.87,16.73 L111.98,16.76 L113.10,16.78 L114.21,16.80 L115.32,16.83 L116.44,16.85 L117.55,16.87 L118.67,16.90 L119.78,16.92 L120.89,16.95 L122.01,16.97 L123.12,17.00 L124.23,17.02 L125.35,17.05 L126.46,17.08 L127.57,17.10 L128.69,17.13 L129.80,17.16 L130.92,17.18 L132.03,17.21 L133.14,17.24 L134.26,17.27 L135.37,17.29 L136.48,17.32 L137.60,17.35 L138.71,17.38 L139.82,17.41 L140.94,17.44 L142.05,17.47 L143.16,17.50 L144.28,17.53 L145.39,17.56 L146.51,17.59 L147.62,17.62 L148.73,17.65 L149.85,17.68 L150.96,17.71 L152.07,17.74 L153.19,17.77 L154.30,17.80 L155.41,17.83 L156.53,17.87 L157.64,17.90 L158.76,17.93 L159.87,17.96 L160.98,17.99 L162.10,18.03 L163.21,18.06 L164.32,18.09 L165.44,18.13 L166.55,18.16 L167.66,18.19 L168.78,18.23 L169.89,18.26 L171.00,18.29 L172.12,18.33 L173.23,18.36 L174.35,18.40 L175.46,18.43 L176.57,18.47 L177.69,18.50 L178.80,18.54 L179.91,18.57 L181.03,18.61 L182.14,18.64 L183.25,18.68 L184.37,18.71 L185.48,18.75 L186.60,18.78 L187.71,18.82 L188.82,18.86 L189.94,18.89 L191.05,18.93 L192.16,18.97 L193.28,19.00 L194.39,19.04 L195.50,19.08 L196.62,19.11 L197.73,19.15 L198.84,19.19 L199.96,19.23 L201.07,19.27 L202.19,19.30 L203.30,19.34 L204.41,19.38 L205.53,19.42 L206.64,19.46 L207.75,19.49 L208.87,19.53 L209.98,19.57 L211.09,19.61 L212.21,19.65 L213.32,19.69 L214.44,19.73 L215.55,19.77 L216.66,19.81 L217.78,19.85 L218.89,19.89 L220.00,19.93 L221.12,19.97 L222.23,20.01 L223.34,20.05 L224.46,20.09 L225.57,20.13 L226.68,20.17 L227.80,20.21 L228.91,20.25 L230.03,20.29 L231.14,20.33 L232.25,20.37 L233.37,20.41 L234.48,20.46 L235.59,20.50 L236.71,20.54 L237.82,20.58 L238.93,20.62 L240.05,20.66 L241.16,20.71 L242.28,20.75 L243.39,20.79 L244.50,20.83 L245.62,20.88 L246.73,20.92 L247.84,20.96 L248.96,21.00 L250.07,21.05 L251.18,21.09 L252.30,21.13 L253.41,21.18 L254.52,21.22 L255.64,21.26 L256.75,21.31 L257.87,21.35 L258.98,21.39 L260.09,21.44 L261.21,21.48 L262.32,21.52 L263.43,21.57 L264.55,21.61 L265.66,21.66 L266.77,21.70 L267.89,21.74 L269.00,21.79 L270.12,21.83 L271.23,21.88 L272.34,21.92 L273.46,21.97 L274.57,22.01 L275.68,22.06 L276.80,22.10 L277.91,22.15 L279.02,22.19 L280.14,22.24 L281.25,22.28 L282.36,22.33 L283.48,22.38 L284.59,22.42 L285.71,22.47 L286.82,22.51 L287.93,22.56 L289.05,22.61 L290.16,22.65 L291.27,22.70 L292.39,22.74 L293.50,22.79 L294.61,22.84 L295.73,22.88 L296.84,22.93 L297.96,22.98 L299.07,23.02 L300.18,23.07 L301.30,23.12 L302.41,23.16 L303.52,23.21 L304.64,23.26 L305.75,23.31 L306.86,23.35 L307.98,23.40 L309.09,23.45 L310.20,23.50 L311.32,23.54 L312.43,23.59 L313.55,23.64 L314.66,23.69 L315.77,23.73 L316.89,23.78 L318.00,23.83" stroke="#d8262a"/>
<path d="M39.60,116.61 L40.71,117.65 L41.83,117.65 L42.94,117.65 L44.05,117.65 L45.17,117.65 L46.28,117.65 L47.40,117.65 L48.51,117.65 L49.62,117.65 L50.74,117.65 L51.85,117.65 L52.96,117.65 L54.08,117.64 L55.19,117.64 L56.30,117.64 L57.42,117.64 L58.53,117.63 L59.64,117.63 L60.76,117.63 L61.87,117.62 L62.99,117.62 L64.10,117.61 L65.21,117.60 L66.33,117.60 L67.44,117.59 L68.55,117.58 L69.67,117.57 L70.78,117.57 L71.89,117.56 L73.01,117.55 L74.12,117.54 L75.24,117.53 L76.35,117.51 L77.46,117.50 L78.58,117.49 L79.69,117.48 L80.80,117.46 L81.92,117.45 L83.03,117.44 L84.14,117.42 L85.26,117.41 L86.37,117.39 L87.48,117.38 L88.60,117.36 L89.71,117.34 L90.83,117.33 L91.94,117.31 L93.05,117.29 L94.17,117.27 L95.28,117.26 L96.39,117.24 L97.51,117.22 L98.62,117.20 L99.73,117.18 L100.85,117.16 L101.96,117.14 L103.08,117.12 L104.19,117.10 L105.30,117.08 L106.42,117.06 L107.53,117.03 L108.64,117.01 L109.76,116.99 L110.87,116.97 L111.98,116.94 L113.10,116.92 L114.21,116.90 L115.32,116.87 L116.44,116.85 L117.55,116.83 L118.67,116.80 L119.78,116.78 L120.89,116.75 L122.01,116.73 L123.12,116.70 L124.23,116.68 L125.35,116.65 L126.46,116.62 L127.57,116.60 L128.69,116.57 L129.80,116.54 L130.92,116.52 L132.03,116.49 L133.14,116.46 L134.26,116.43 L135.37,116.41 L136.48,116.38 L137.60,116.35 L138.71,116.32 L139.82,116.29 L140.94,116.26 L142.05,116.23 L143.16,116.20 L144.28,116.17 L145.39,116.14 L146.51,116.11 L147.62,116.08 L148.73,116.05 L149.85,116.02 L150.96,115.99 L152.07,115.96 L153.19,115.93 L154.30,115.90 L155.41,115.87 L156.53,115.83 L157.64,115.80 L158.76,115.77 L159.87,115.74 L160.98,115.71 L162.10,115.67 L163.21,115.64 L164.32,115.61 L165.44,115.57 L166.55,115.54 L167.66,115.51 L168.78,115.47 L169.89,115.44 L171.00,115.41 L172.12,115.37 L173.23,115.34 L174.35,115.30 L175.46,115.27 L176.57,115.23 L177.69,115.20 L178.80,115.16 L179.91,115.13 L181.03,115.09 L182.14,115.06 L183.25,115.02 L184.37,114.99 L185.48,114.95 L186.60,114.92 L187.71,114.88 L188.82,114.84 L189.94,114.81 L191.05,114.77 L192.16,114.73 L193.28,114.70 L194.39,114.66 L195.50,114.62 L196.62,114.59 L197.73,114.55 L198.84,114.51 L199.96,114.47 L201.07,114.43 L202.19,114.40 L203.30,114.36 L204.41,114.32 L205.53,114.28 L206.64,114.24 L207.75,114.21 L208.87,114.17 L209.98,114.13 L211.09,114.09 L212.21,114.05 L213.32,114.01 L214.44,113.97 L215.55,113.93 L216.66,113.89 L217.78,113.85 L218.89,113.81 L220.00,113.77 L221.12,113.73 L222.23,113.69 L223.34,113.65 L224.46,113.61 L225.57,113.57 L226.68,113.53 L227.80,113.49 L228.91,113.45 L230.03,113.41 L231.14,113.37 L232.25,113.33 L233.37,113.29 L234.48,113.24 L235.59,113.20 L236.71,113.16 L237.82,113.12 L238.93,113.08 L240.05,113.04 L241.16,112.99 L242.28,112.95 L243.39,112.91 L244.50,112.87 L245.62,112.82 L246.73,112.78 L247.84,112.74 L248.96,112.70 L250.07,112.65 L251.18,112.61 L252.30,112.57 L253.41,112.52 L254.52,112.48 L255.64,112.44 L256.75,112.39 L257.87,112.35 L258.98,112.31 L260.09,112.26 L261.21,112.22 L262.32,112.18 L263.43,112.13 L264.55,112.09 L265.66,112.04 L266.77,112.00 L267.89,111.96 L269.00,111.91 L270.12,111.87 L271.23,111.82 L272.34,111.78 L273.46,111.73 L274.57,111.69 L275.68,111.64 L276.80,111.60 L277.91,111.55 L279.02,111.51 L280.14,111.46 L281.25,111.42 L282.36,111.37 L283.48,111.32 L284.59,111.28 L285.71,111.23 L286.82,111.19 L287.93,111.14 L289.05,111.09 L290.16,111.05 L291.27,111.00 L292.39,110.96 L293.50,110.91 L294.61,110.86 L295.73,110.82 L296.84,110.77 L297.96,110.72 L299.07,110.68 L300.18,110.63 L301.30,110.58 L302.41,110.54 L303.52,110.49 L304.64,110.44 L305.75,110.39 L306.86,110.35 L307.98,110.30 L309.09,110.25 L310.20,110.20 L311.32,110.16 L312.43,110.11 L313.55,110.06 L314.66,110.01 L315.77,109.97 L316.89,109.92 L318.00,109.87" stroke="#3434ec"/>
</g>
<rect x="39.60" y="0.50" width="278.40" height="132.70" fill="none" stroke="#555" stroke-width="1.2"/>
<path d="M39.60,11.56 h2.6 M318.00,11.56 h-2.6 M39.60,39.20 h2.6 M318.00,39.20 h-2.6 M39.60,66.85 h2.6 M318.00,66.85 h-2.6 M39.60,94.50 h2.6 M318.00,94.50 h-2.6 M39.60,122.14 h2.6 M318.00,122.14 h-2.6 M39.60,25.38 h1.5 M318.00,25.38 h-1.5 M39.60,53.03 h1.5 M318.00,53.03 h-1.5 M39.60,80.67 h1.5 M318.00,80.67 h-1.5 M39.60,108.32 h1.5 M318.00,108.32 h-1.5 M67.44,0.50 v1.5 M67.44,133.20 v-1.5 M95.28,0.50 v2.6 M95.28,133.20 v-2.6 M123.12,0.50 v1.5 M123.12,133.20 v-1.5 M150.96,0.50 v2.6 M150.96,133.20 v-2.6 M178.80,0.50 v1.5 M178.80,133.20 v-1.5 M206.64,0.50 v2.6 M206.64,133.20 v-2.6 M234.48,0.50 v1.5 M234.48,133.20 v-1.5 M262.32,0.50 v2.6 M262.32,133.20 v-2.6 M290.16,0.50 v1.5 M290.16,133.20 v-1.5" stroke="#555" stroke-width="1" fill="none"/>
<text x="35.8" y="15.86" font-size="10" text-anchor="end" fill="#111" stroke="#111" stroke-width="0.25">1.0</text>
<text x="35.8" y="43.50" font-size="10" text-anchor="end" fill="#111" stroke="#111" stroke-width="0.25">0.5</text>
<text x="35.8" y="71.15" font-size="10" text-anchor="end" fill="#111" stroke="#111" stroke-width="0.25">0.0</text>
<text x="35.8" y="98.80" font-size="10" text-anchor="end" fill="#111" stroke="#111" stroke-width="0.25">-0.5</text>
<text x="35.8" y="126.44" font-size="10" text-anchor="end" fill="#111" stroke="#111" stroke-width="0.25">-1.0</text>
<text x="41.13" y="145.9" font-size="10" text-anchor="middle" fill="#111" stroke="#111" stroke-width="0.25">0</text>
<text x="95.28" y="145.9" font-size="10" text-anchor="middle" fill="#111" stroke="#111" stroke-width="0.25">200</text>
<text x="123.12" y="145.9" font-size="10" text-anchor="middle" fill="#d8262a" stroke="#d8262a" stroke-width="0.25">300</text>
<text x="150.96" y="145.9" font-size="10" text-anchor="middle" fill="#111" stroke="#111" stroke-width="0.25">400</text>
<text x="206.64" y="145.9" font-size="10" text-anchor="middle" fill="#111" stroke="#111" stroke-width="0.25">600</text>
<text x="262.32" y="145.9" font-size="10" text-anchor="middle" fill="#111" stroke="#111" stroke-width="0.25">800</text>
<text x="318.00" y="145.9" font-size="10" text-anchor="middle" fill="#111" stroke="#111" stroke-width="0.25">1000</text>
<text x="182.4" y="159.9" font-size="10.4" font-weight="bold" text-anchor="middle" fill="#111" stroke="#111" stroke-width="0.25">Temperature (K)</text>
<text transform="translate(8.4,68) rotate(-90)" font-size="10.4" font-weight="bold" text-anchor="middle" fill="#111" stroke="#111" stroke-width="0.25">Fermi Level (eV)</text>
<text x="327.4" y="21.7" font-size="10.5" fill="#111" stroke="#111" stroke-width="0.25">E<tspan font-size="7.2" dy="3.2">c</tspan></text>
<text x="320.8" y="69" font-size="10.4" fill="#111" stroke="#111" stroke-width="0.25">Midgap</text>
<text x="327.2" y="121.4" font-size="10.5" fill="#111" stroke="#111" stroke-width="0.25">E<tspan font-size="7.2" dy="3.2">v</tspan></text>
<text x="298.2" y="127.8" font-size="11.3" fill="#111" stroke="#111" stroke-width="0.25">(a)</text>
<text x="45.5" y="55.8" font-size="9.6" font-weight="bold" fill="#d8262a" stroke="#d8262a" stroke-width="0.25"><tspan font-style="italic">n</tspan>-type</text>
<text x="45.5" y="82.2" font-size="9.6" font-weight="bold" fill="#3434ec" stroke="#3434ec" stroke-width="0.25"><tspan font-style="italic">p</tspan>-type</text>
<text x="81.5" y="61.4" font-size="9.5" fill="#111" stroke="#111" stroke-width="0.25">SL-MoS<tspan font-size="6.5" dy="2.2">2</tspan></text>
<text transform="translate(243.70,31.00) rotate(6.0)" font-size="9.8" font-style="italic" text-anchor="middle" fill="#d8262a" stroke="#d8262a" stroke-width="0.25" y="3.5">10<tspan font-size="6.8" dy="-2.6">11</tspan></text>
<text transform="translate(222.90,44.00) rotate(10.0)" font-size="9.8" font-style="italic" text-anchor="middle" fill="#d8262a" stroke="#d8262a" stroke-width="0.25" y="3.5">10<tspan font-size="6.8" dy="-2.6">9</tspan></text>
<text transform="translate(202.30,51.90) rotate(14.0)" font-size="9.8" font-style="italic" text-anchor="middle" fill="#d8262a" stroke="#d8262a" stroke-width="0.25" y="3.5">10<tspan font-size="6.8" dy="-2.6">7</tspan></text>
<text transform="translate(185.00,57.50) rotate(17.0)" font-size="9.8" font-style="italic" text-anchor="middle" fill="#d8262a" stroke="#d8262a" stroke-width="0.25" y="3.5">10<tspan font-size="6.8" dy="-2.6">5</tspan></text>
<text transform="translate(185.50,74.50) rotate(-17.0)" font-size="9.8" font-style="italic" text-anchor="middle" fill="#3434ec" stroke="#3434ec" stroke-width="0.25" y="3.5">10<tspan font-size="6.8" dy="-2.6">5</tspan></text>
<text transform="translate(201.90,80.90) rotate(-14.0)" font-size="9.8" font-style="italic" text-anchor="middle" fill="#3434ec" stroke="#3434ec" stroke-width="0.25" y="3.5">10<tspan font-size="6.8" dy="-2.6">7</tspan></text>
<text transform="translate(226.60,89.50) rotate(-10.0)" font-size="9.8" font-style="italic" text-anchor="middle" fill="#3434ec" stroke="#3434ec" stroke-width="0.25" y="3.5">10<tspan font-size="6.8" dy="-2.6">9</tspan></text>
<text transform="translate(246.60,102.50) rotate(-6.0)" font-size="9.8" font-style="italic" text-anchor="middle" fill="#3434ec" stroke="#3434ec" stroke-width="0.25" y="3.5">10<tspan font-size="6.8" dy="-2.6">11</tspan></text>
<text x="261.90" y="32.00" font-size="9.6" fill="#d8262a" stroke="#d8262a" stroke-width="0.25">n<tspan font-size="6.4" dy="2.2">s</tspan><tspan dy="-2.2">=10</tspan><tspan font-size="6.6" dy="-2.7">13</tspan><tspan dy="2.7">(cm</tspan><tspan font-size="6.6" dy="-2.7">-2</tspan><tspan dy="2.7">)</tspan></text>
<text x="261.90" y="106.60" font-size="9.6" fill="#3434ec" stroke="#3434ec" stroke-width="0.25">n<tspan font-size="6.4" dy="2.2">s</tspan><tspan dy="-2.2">=10</tspan><tspan font-size="6.6" dy="-2.7">13</tspan><tspan dy="2.7">(cm</tspan><tspan font-size="6.6" dy="-2.7">-2</tspan><tspan dy="2.7">)</tspan></text>
<rect x="39.60" y="180.50" width="35.20" height="131.50" fill="url(#hB)"/>
<rect x="282.5" y="180.50" width="34.90" height="131.50" fill="url(#hB)"/>
<line x1="74.8" y1="180.50" x2="74.8" y2="312.00" stroke="#333" stroke-width="1"/>
<line x1="282.5" y1="180.50" x2="282.5" y2="312.00" stroke="#333" stroke-width="1"/>
<line x1="40.90" y1="203.40" x2="317.40" y2="203.40" stroke="#d42ad8" stroke-width="1.5" stroke-dasharray="3.9 4.84" stroke-dashoffset="-4.96"/>
<line x1="40.90" y1="210.60" x2="317.40" y2="210.60" stroke="#84e22a" stroke-width="1.5" stroke-dasharray="3.9 4.84" stroke-dashoffset="-4.96"/>
<line x1="40.90" y1="223.60" x2="317.40" y2="223.60" stroke="#2a2ae6" stroke-width="1.5" stroke-dasharray="3.9 4.84" stroke-dashoffset="-4.96"/>
<rect x="46" y="264.5" width="20.5" height="14" fill="#fff"/>
<rect x="291" y="264.5" width="20.5" height="14" fill="#fff"/>
<rect x="295.5" y="295" width="18" height="13.5" fill="#fff"/>
<g clip-path="url(#cB)" fill="none">
<path d="M39.60,195.62 L40.18,195.62 L40.76,195.62 L41.34,195.62 L41.92,195.62 L42.50,195.62 L43.08,195.62 L43.66,195.62 L44.24,195.62 L44.82,195.62 L45.40,195.62 L45.98,195.62 L46.56,195.62 L47.14,195.62 L47.72,195.62 L48.30,195.62 L48.88,195.62 L49.46,195.62 L50.04,195.62 L50.62,195.62 L51.20,195.62 L51.78,195.62 L52.36,195.62 L52.94,195.62 L53.52,195.62 L54.10,195.63 L54.68,195.63 L55.26,195.63 L55.84,195.63 L56.42,195.63 L57.00,195.63 L57.58,195.63 L58.16,195.63 L58.74,195.64 L59.32,195.64 L59.90,195.64 L60.48,195.65 L61.06,195.65 L61.64,195.66 L62.22,195.67 L62.80,195.68 L63.38,195.69 L63.96,195.70 L64.54,195.72 L65.12,195.74 L65.70,195.76 L66.28,195.79 L66.86,195.83 L67.44,195.87 L68.02,195.92 L68.60,195.98 L69.18,196.05 L69.76,196.14 L70.34,196.23 L70.92,196.35 L71.50,196.49 L72.08,196.64 L72.66,196.83 L73.24,197.03 L73.82,197.27 L74.40,197.53 L74.98,197.82 L75.56,198.14 L76.14,198.49 L76.72,198.87 L77.30,199.28 L77.88,199.71 L78.46,200.17 L79.04,200.65 L79.62,201.14 L80.20,201.66 L80.78,202.19 L81.36,202.73 L81.94,203.28 L82.52,203.85 L83.10,204.42 L83.68,205.00 L84.26,205.58 L84.84,206.17 L85.42,206.76 L86.00,207.36 L86.58,207.96 L87.16,208.56 L87.74,209.17 L88.32,209.77 L88.90,210.38 L89.48,210.99 L90.06,211.60 L90.64,212.21 L91.22,212.82 L91.80,213.43 L92.38,214.04 L92.96,214.65 L93.54,215.27 L94.12,215.88 L94.70,216.49 L95.28,217.10 L95.86,217.72 L96.44,218.33 L97.02,218.94 L97.60,219.56 L98.18,220.17 L98.76,220.78 L99.34,221.40 L99.92,222.01 L100.50,222.62 L101.08,223.24 L101.66,223.85 L102.24,224.47 L102.82,225.08 L103.40,225.69 L103.98,226.31 L104.56,226.92 L105.14,227.53 L105.72,228.15 L106.30,228.76 L106.88,229.37 L107.46,229.99 L108.04,230.60 L108.62,231.22 L109.20,231.83 L109.78,232.44 L110.36,233.06 L110.94,233.67 L111.52,234.28 L112.10,234.90 L112.68,235.51 L113.26,236.12 L113.84,236.74 L114.42,237.35 L115.00,237.97 L115.58,238.58 L116.16,239.19 L116.74,239.81 L117.32,240.42 L117.90,241.03 L118.48,241.65 L119.06,242.26 L119.64,242.87 L120.22,243.49 L120.80,244.10 L121.38,244.72 L121.96,245.33 L122.54,245.94 L123.12,246.56 L123.70,247.17 L124.28,247.78 L124.86,248.40 L125.44,249.01 L126.02,249.62 L126.60,250.24 L127.18,250.85 L127.76,251.47 L128.34,252.08 L128.92,252.69 L129.50,253.31 L130.08,253.92 L130.66,254.53 L131.24,255.15 L131.82,255.76 L132.40,256.38 L132.98,256.99 L133.56,257.60 L134.14,258.22 L134.72,258.83 L135.30,259.44 L135.88,260.06 L136.46,260.67 L137.04,261.28 L137.62,261.90 L138.20,262.51 L138.78,263.13 L139.36,263.74 L139.94,264.35 L140.52,264.97 L141.10,265.58 L141.68,266.19 L142.26,266.81 L142.84,267.42 L143.42,268.03 L144.00,268.65 L144.58,269.26 L145.16,269.88 L145.74,270.49 L146.32,271.10 L146.90,271.72 L147.48,272.33 L148.06,272.94 L148.64,273.56 L149.22,274.17 L149.80,274.79 L150.38,275.40 L150.96,276.01 L151.54,276.63 L152.12,277.24 L152.70,277.85 L153.28,278.47 L153.86,279.08 L154.44,279.69 L155.02,280.31 L155.60,280.92 L156.18,281.54 L156.76,282.15 L157.34,282.76 L157.92,283.38 L158.50,283.99 L159.08,284.60 L159.66,285.22 L160.24,285.83 L160.82,286.44 L161.40,287.06 L161.98,287.67 L162.56,288.29 L163.14,288.90 L163.72,289.51 L164.30,290.13 L164.88,290.74 L165.46,291.35 L166.04,291.97 L166.62,292.58 L167.20,293.19 L167.78,293.81 L168.36,294.42 L168.94,295.03 L169.52,295.64 L170.10,296.25 L170.68,296.86 L171.26,297.47 L171.84,298.07 L172.42,298.67 L173.00,299.27 L173.58,299.85 L174.16,300.42 L174.74,300.97 L175.32,301.49 L175.90,301.97 L176.48,302.40 L177.06,302.76 L177.64,303.04 L178.22,303.21 L178.80,303.27 L179.38,303.21 L179.96,303.04 L180.54,302.76 L181.12,302.40 L181.70,301.97 L182.28,301.49 L182.86,300.97 L183.44,300.42 L184.02,299.85 L184.60,299.27 L185.18,298.67 L185.76,298.07 L186.34,297.47 L186.92,296.86 L187.50,296.25 L188.08,295.64 L188.66,295.03 L189.24,294.42 L189.82,293.81 L190.40,293.19 L190.98,292.58 L191.56,291.97 L192.14,291.35 L192.72,290.74 L193.30,290.13 L193.88,289.51 L194.46,288.90 L195.04,288.29 L195.62,287.67 L196.20,287.06 L196.78,286.44 L197.36,285.83 L197.94,285.22 L198.52,284.60 L199.10,283.99 L199.68,283.38 L200.26,282.76 L200.84,282.15 L201.42,281.54 L202.00,280.92 L202.58,280.31 L203.16,279.69 L203.74,279.08 L204.32,278.47 L204.90,277.85 L205.48,277.24 L206.06,276.63 L206.64,276.01 L207.22,275.40 L207.80,274.79 L208.38,274.17 L208.96,273.56 L209.54,272.94 L210.12,272.33 L210.70,271.72 L211.28,271.10 L211.86,270.49 L212.44,269.88 L213.02,269.26 L213.60,268.65 L214.18,268.03 L214.76,267.42 L215.34,266.81 L215.92,266.19 L216.50,265.58 L217.08,264.97 L217.66,264.35 L218.24,263.74 L218.82,263.13 L219.40,262.51 L219.98,261.90 L220.56,261.28 L221.14,260.67 L221.72,260.06 L222.30,259.44 L222.88,258.83 L223.46,258.22 L224.04,257.60 L224.62,256.99 L225.20,256.38 L225.78,255.76 L226.36,255.15 L226.94,254.53 L227.52,253.92 L228.10,253.31 L228.68,252.69 L229.26,252.08 L229.84,251.47 L230.42,250.85 L231.00,250.24 L231.58,249.62 L232.16,249.01 L232.74,248.40 L233.32,247.78 L233.90,247.17 L234.48,246.56 L235.06,245.94 L235.64,245.33 L236.22,244.72 L236.80,244.10 L237.38,243.49 L237.96,242.87 L238.54,242.26 L239.12,241.65 L239.70,241.03 L240.28,240.42 L240.86,239.81 L241.44,239.19 L242.02,238.58 L242.60,237.97 L243.18,237.35 L243.76,236.74 L244.34,236.12 L244.92,235.51 L245.50,234.90 L246.08,234.28 L246.66,233.67 L247.24,233.06 L247.82,232.44 L248.40,231.83 L248.98,231.22 L249.56,230.60 L250.14,229.99 L250.72,229.37 L251.30,228.76 L251.88,228.15 L252.46,227.53 L253.04,226.92 L253.62,226.31 L254.20,225.69 L254.78,225.08 L255.36,224.47 L255.94,223.85 L256.52,223.24 L257.10,222.62 L257.68,222.01 L258.26,221.40 L258.84,220.78 L259.42,220.17 L260.00,219.56 L260.58,218.94 L261.16,218.33 L261.74,217.72 L262.32,217.10 L262.90,216.49 L263.48,215.88 L264.06,215.27 L264.64,214.65 L265.22,214.04 L265.80,213.43 L266.38,212.82 L266.96,212.21 L267.54,211.60 L268.12,210.99 L268.70,210.38 L269.28,209.77 L269.86,209.17 L270.44,208.56 L271.02,207.96 L271.60,207.36 L272.18,206.76 L272.76,206.17 L273.34,205.58 L273.92,205.00 L274.50,204.42 L275.08,203.85 L275.66,203.28 L276.24,202.73 L276.82,202.19 L277.40,201.66 L277.98,201.14 L278.56,200.65 L279.14,200.17 L279.72,199.71 L280.30,199.28 L280.88,198.87 L281.46,198.49 L282.04,198.14 L282.62,197.82 L283.20,197.53 L283.78,197.27 L284.36,197.03 L284.94,196.83 L285.52,196.64 L286.10,196.49 L286.68,196.35 L287.26,196.23 L287.84,196.14 L288.42,196.05 L289.00,195.98 L289.58,195.92 L290.16,195.87 L290.74,195.83 L291.32,195.79 L291.90,195.76 L292.48,195.74 L293.06,195.72 L293.64,195.70 L294.22,195.69 L294.80,195.68 L295.38,195.67 L295.96,195.66 L296.54,195.65 L297.12,195.65 L297.70,195.64 L298.28,195.64 L298.86,195.64 L299.44,195.63 L300.02,195.63 L300.60,195.63 L301.18,195.63 L301.76,195.63 L302.34,195.63 L302.92,195.63 L303.50,195.63 L304.08,195.62 L304.66,195.62 L305.24,195.62 L305.82,195.62 L306.40,195.62 L306.98,195.62 L307.56,195.62 L308.14,195.62 L308.72,195.62 L309.30,195.62 L309.88,195.62 L310.46,195.62 L311.04,195.62 L311.62,195.62 L312.20,195.62 L312.78,195.62 L313.36,195.62 L313.94,195.62 L314.52,195.62 L315.10,195.62 L315.68,195.62 L316.26,195.62 L316.84,195.62 L317.42,195.62 L318.00,195.62 L318.00,195.62" stroke="#111" stroke-width="1.1"/>
<path d="M39.60,195.62 L40.18,195.62 L40.76,195.62 L41.34,195.62 L41.92,195.62 L42.50,195.62 L43.08,195.62 L43.66,195.62 L44.24,195.62 L44.82,195.62 L45.40,195.62 L45.98,195.62 L46.56,195.62 L47.14,195.62 L47.72,195.62 L48.30,195.62 L48.88,195.62 L49.46,195.62 L50.04,195.62 L50.62,195.62 L51.20,195.62 L51.78,195.62 L52.36,195.62 L52.94,195.62 L53.52,195.62 L54.10,195.62 L54.68,195.62 L55.26,195.62 L55.84,195.62 L56.42,195.62 L57.00,195.62 L57.58,195.62 L58.16,195.62 L58.74,195.62 L59.32,195.62 L59.90,195.62 L60.48,195.62 L61.06,195.62 L61.64,195.62 L62.22,195.62 L62.80,195.62 L63.38,195.62 L63.96,195.62 L64.54,195.62 L65.12,195.62 L65.70,195.62 L66.28,195.62 L66.86,195.62 L67.44,195.62 L68.02,195.62 L68.60,195.62 L69.18,195.62 L69.76,195.63 L70.34,195.63 L70.92,195.64 L71.50,195.66 L72.08,195.69 L72.66,195.77 L73.24,195.94 L73.82,196.26 L74.40,196.85 L74.98,197.82 L75.44,198.92 L75.79,199.92 L76.14,201.04 L76.37,201.84 L76.60,202.68 L76.84,203.55 L77.07,204.43 L77.30,205.34 L77.53,206.26 L77.76,207.18 L78.00,208.12 L78.23,209.06 L78.46,210.00 L78.69,210.95 L78.92,211.90 L79.16,212.85 L79.39,213.80 L79.62,214.76 L79.85,215.71 L80.08,216.67 L80.32,217.62 L80.55,218.58 L80.78,219.53 L81.01,220.49 L81.24,221.45 L81.48,222.40 L81.71,223.36 L81.94,224.31 L82.17,225.27 L82.40,226.23 L82.64,227.18 L82.87,228.14 L83.10,229.10 L83.33,230.05 L83.56,231.01 L83.80,231.96 L84.03,232.92 L84.26,233.88 L84.49,234.83 L84.72,235.79 L84.96,236.75 L85.19,237.70 L85.42,238.66 L85.65,239.61 L85.88,240.57 L86.12,241.53 L86.35,242.48 L86.58,243.44 L86.81,244.40 L87.04,245.35 L87.28,246.31 L87.51,247.27 L87.74,248.22 L87.97,249.18 L88.20,250.13 L88.44,251.09 L88.67,252.05 L88.90,253.00 L89.13,253.96 L89.36,254.92 L89.60,255.87 L89.83,256.83 L90.06,257.79 L90.29,258.74 L90.52,259.70 L90.76,260.65 L90.99,261.61 L91.22,262.57 L91.45,263.52 L91.68,264.48 L91.92,265.44 L92.15,266.39 L92.38,267.35 L92.61,268.31 L92.84,269.26 L93.08,270.22 L93.31,271.17 L93.54,272.13 L93.77,273.09 L94.00,274.04 L94.24,275.00 L94.47,275.96 L94.70,276.91 L94.93,277.87 L95.16,278.83 L95.40,279.78 L95.63,280.74 L95.86,281.69 L96.09,282.65 L96.32,283.61 L96.56,284.56 L96.79,285.52 L97.02,286.48 L97.25,287.43 L97.48,288.39 L97.72,289.35 L97.95,290.30 L98.18,291.26 L98.41,292.21 L98.64,293.17 L98.88,294.13 L99.11,295.08 L99.34,296.04 L99.57,297.00 L99.80,297.95 L100.04,298.91 L100.27,299.87 L100.50,300.82 L100.73,301.78 L100.96,302.73 L101.20,303.69 L101.43,304.65 L101.66,305.60 L101.89,306.56 L102.12,307.52 L102.36,308.47 L102.59,309.43 L102.82,310.39 L103.05,311.34 L103.28,312.30 L103.52,313.25 L103.75,314.21 L103.98,315.17 L104.21,316.12 L104.44,317.00 L105.02,317.00 L105.60,317.00 L106.18,317.00 L106.76,317.00 L107.34,317.00 L107.92,317.00 L108.50,317.00 L109.08,317.00 L109.66,317.00 L110.24,317.00 L110.82,317.00 L111.40,317.00 L111.98,317.00 L112.56,317.00 L113.14,317.00 L113.72,317.00 L114.30,317.00 L114.88,317.00 L115.46,317.00 L116.04,317.00 L116.62,317.00 L117.20,317.00 L117.78,317.00 L118.36,317.00 L118.94,317.00 L119.52,317.00 L120.10,317.00 L120.68,317.00 L121.26,317.00 L121.84,317.00 L122.42,317.00 L123.00,317.00 L123.58,317.00 L124.16,317.00 L124.74,317.00 L125.32,317.00 L125.90,317.00 L126.48,317.00 L127.06,317.00 L127.64,317.00 L128.22,317.00 L128.80,317.00 L129.38,317.00 L129.96,317.00 L130.54,317.00 L131.12,317.00 L131.70,317.00 L132.28,317.00 L132.86,317.00 L133.44,317.00 L134.02,317.00 L134.60,317.00 L135.18,317.00 L135.76,317.00 L136.34,317.00 L136.92,317.00 L137.50,317.00 L138.08,317.00 L138.66,317.00 L139.24,317.00 L139.82,317.00 L140.40,317.00 L140.98,317.00 L141.56,317.00 L142.14,317.00 L142.72,317.00 L143.30,317.00 L143.88,317.00 L144.46,317.00 L145.04,317.00 L145.62,317.00 L146.20,317.00 L146.78,317.00 L147.36,317.00 L147.94,317.00 L148.52,317.00 L149.10,317.00 L149.68,317.00 L150.26,317.00 L150.84,317.00 L151.42,317.00 L152.00,317.00 L152.58,317.00 L153.16,317.00 L153.74,317.00 L154.32,317.00 L154.90,317.00 L155.48,317.00 L156.06,317.00 L156.64,317.00 L157.22,317.00 L157.80,317.00 L158.38,317.00 L158.96,317.00 L159.54,317.00 L160.12,317.00 L160.70,317.00 L161.28,317.00 L161.86,317.00 L162.44,317.00 L163.02,317.00 L163.60,317.00 L164.18,317.00 L164.76,317.00 L165.34,317.00 L165.92,317.00 L166.50,317.00 L167.08,317.00 L167.66,317.00 L168.24,317.00 L168.82,317.00 L169.40,317.00 L169.98,317.00 L170.56,317.00 L171.14,317.00 L171.72,317.00 L172.30,317.00 L172.88,317.00 L173.46,317.00 L174.04,317.00 L174.62,317.00 L175.20,317.00 L175.78,317.00 L176.36,317.00 L176.94,317.00 L177.52,317.00 L178.10,317.00 L178.68,317.00 L179.26,317.00 L179.84,317.00 L180.42,317.00 L181.00,317.00 L181.58,317.00 L182.16,317.00 L182.74,317.00 L183.32,317.00 L183.90,317.00 L184.48,317.00 L185.06,317.00 L185.64,317.00 L186.22,317.00 L186.80,317.00 L187.38,317.00 L187.96,317.00 L188.54,317.00 L189.12,317.00 L189.70,317.00 L190.28,317.00 L190.86,317.00 L191.44,317.00 L192.02,317.00 L192.60,317.00 L193.18,317.00 L193.76,317.00 L194.34,317.00 L194.92,317.00 L195.50,317.00 L196.08,317.00 L196.66,317.00 L197.24,317.00 L197.82,317.00 L198.40,317.00 L198.98,317.00 L199.56,317.00 L200.14,317.00 L200.72,317.00 L201.30,317.00 L201.88,317.00 L202.46,317.00 L203.04,317.00 L203.62,317.00 L204.20,317.00 L204.78,317.00 L205.36,317.00 L205.94,317.00 L206.52,317.00 L207.10,317.00 L207.68,317.00 L208.26,317.00 L208.84,317.00 L209.42,317.00 L210.00,317.00 L210.58,317.00 L211.16,317.00 L211.74,317.00 L212.32,317.00 L212.90,317.00 L213.48,317.00 L214.06,317.00 L214.64,317.00 L215.22,317.00 L215.80,317.00 L216.38,317.00 L216.96,317.00 L217.54,317.00 L218.12,317.00 L218.70,317.00 L219.28,317.00 L219.86,317.00 L220.44,317.00 L221.02,317.00 L221.60,317.00 L222.18,317.00 L222.76,317.00 L223.34,317.00 L223.92,317.00 L224.50,317.00 L225.08,317.00 L225.66,317.00 L226.24,317.00 L226.82,317.00 L227.40,317.00 L227.98,317.00 L228.56,317.00 L229.14,317.00 L229.72,317.00 L230.30,317.00 L230.88,317.00 L231.46,317.00 L232.04,317.00 L232.62,317.00 L233.20,317.00 L233.78,317.00 L234.36,317.00 L234.94,317.00 L235.52,317.00 L236.10,317.00 L236.68,317.00 L237.26,317.00 L237.84,317.00 L238.42,317.00 L239.00,317.00 L239.58,317.00 L240.16,317.00 L240.74,317.00 L241.32,317.00 L241.90,317.00 L242.48,317.00 L243.06,317.00 L243.64,317.00 L244.22,317.00 L244.80,317.00 L245.38,317.00 L245.96,317.00 L246.54,317.00 L247.12,317.00 L247.70,317.00 L248.28,317.00 L248.86,317.00 L249.44,317.00 L250.02,317.00 L250.60,317.00 L251.18,317.00 L251.76,317.00 L252.34,317.00 L252.92,317.00 L253.39,316.12 L253.62,315.17 L253.85,314.21 L254.08,313.25 L254.32,312.30 L254.55,311.34 L254.78,310.39 L255.01,309.43 L255.24,308.47 L255.48,307.52 L255.71,306.56 L255.94,305.60 L256.17,304.65 L256.40,303.69 L256.64,302.73 L256.87,301.78 L257.10,300.82 L257.33,299.87 L257.56,298.91 L257.80,297.95 L258.03,297.00 L258.26,296.04 L258.49,295.08 L258.72,294.13 L258.96,293.17 L259.19,292.21 L259.42,291.26 L259.65,290.30 L259.88,289.35 L260.12,288.39 L260.35,287.43 L260.58,286.48 L260.81,285.52 L261.04,284.56 L261.28,283.61 L261.51,282.65 L261.74,281.69 L261.97,280.74 L262.20,279.78 L262.44,278.83 L262.67,277.87 L262.90,276.91 L263.13,275.96 L263.36,275.00 L263.60,274.04 L263.83,273.09 L264.06,272.13 L264.29,271.17 L264.52,270.22 L264.76,269.26 L264.99,268.31 L265.22,267.35 L265.45,266.39 L265.68,265.44 L265.92,264.48 L266.15,263.52 L266.38,262.57 L266.61,261.61 L266.84,260.65 L267.08,259.70 L267.31,258.74 L267.54,257.79 L267.77,256.83 L268.00,255.87 L268.24,254.92 L268.47,253.96 L268.70,253.00 L268.93,252.05 L269.16,251.09 L269.40,250.13 L269.63,249.18 L269.86,248.22 L270.09,247.27 L270.32,246.31 L270.56,245.35 L270.79,244.40 L271.02,243.44 L271.25,242.48 L271.48,241.53 L271.72,240.57 L271.95,239.61 L272.18,238.66 L272.41,237.70 L272.64,236.75 L272.88,235.79 L273.11,234.83 L273.34,233.88 L273.57,232.92 L273.80,231.96 L274.04,231.01 L274.27,230.05 L274.50,229.10 L274.73,228.14 L274.96,227.18 L275.20,226.23 L275.43,225.27 L275.66,224.31 L275.89,223.36 L276.12,222.40 L276.36,221.45 L276.59,220.49 L276.82,219.53 L277.05,218.58 L277.28,217.62 L277.52,216.67 L277.75,215.71 L277.98,214.76 L278.21,213.80 L278.44,212.85 L278.68,211.90 L278.91,210.95 L279.14,210.00 L279.37,209.06 L279.60,208.12 L279.84,207.18 L280.07,206.26 L280.30,205.34 L280.53,204.43 L280.76,203.55 L281.00,202.68 L281.23,201.84 L281.46,201.04 L281.81,199.92 L282.16,198.92 L282.50,198.07 L282.97,197.18 L283.55,196.45 L284.13,196.04 L284.71,195.83 L285.29,195.72 L285.87,195.67 L286.45,195.64 L287.03,195.63 L287.61,195.63 L288.19,195.62 L288.77,195.62 L289.35,195.62 L289.93,195.62 L290.51,195.62 L291.09,195.62 L291.67,195.62 L292.25,195.62 L292.83,195.62 L293.41,195.62 L293.99,195.62 L294.57,195.62 L295.15,195.62 L295.73,195.62 L296.31,195.62 L296.89,195.62 L297.47,195.62 L298.05,195.62 L298.63,195.62 L299.21,195.62 L299.79,195.62 L300.37,195.62 L300.95,195.62 L301.53,195.62 L302.11,195.62 L302.69,195.62 L303.27,195.62 L303.85,195.62 L304.43,195.62 L305.01,195.62 L305.59,195.62 L306.17,195.62 L306.75,195.62 L307.33,195.62 L307.91,195.62 L308.49,195.62 L309.07,195.62 L309.65,195.62 L310.23,195.62 L310.81,195.62 L311.39,195.62 L311.97,195.62 L312.55,195.62 L313.13,195.62 L313.71,195.62 L314.29,195.62 L314.87,195.62 L315.45,195.62 L316.03,195.62 L316.61,195.62 L317.19,195.62 L317.77,195.62 L318.00,195.62" stroke="#d8262a" stroke-width="1"/>
</g>
<line x1="34.3" y1="195.62" x2="40" y2="195.62" stroke="#d8262a" stroke-width="1"/>
<line x1="317.2" y1="195.62" x2="322.5" y2="195.62" stroke="#d8262a" stroke-width="1"/>
<rect x="39.60" y="180.50" width="277.80" height="131.50" fill="none" stroke="#222" stroke-width="1.1"/>
<path d="M62.80,312.00 v-2.6 M62.80,180.50 v2.6 M91.80,312.00 v-1.6 M91.80,180.50 v1.6 M120.80,312.00 v-2.6 M120.80,180.50 v2.6 M149.80,312.00 v-1.6 M149.80,180.50 v1.6 M178.80,312.00 v-2.6 M178.80,180.50 v2.6 M207.80,312.00 v-1.6 M207.80,180.50 v1.6 M236.80,312.00 v-2.6 M236.80,180.50 v2.6 M265.80,312.00 v-1.6 M265.80,180.50 v1.6 M294.80,312.00 v-2.6 M294.80,180.50 v2.6" stroke="#222" stroke-width="1" fill="none"/>
<text x="36.60" y="185.10" font-size="10" text-anchor="end" fill="#111" stroke="#111" stroke-width="0.25">10<tspan font-size="6.8" dy="-3.2">4</tspan></text>
<text x="36.60" y="235.90" font-size="10" text-anchor="end" fill="#111" stroke="#111" stroke-width="0.25">10<tspan font-size="6.8" dy="-3.2">-2</tspan></text>
<text x="36.60" y="278.40" font-size="10" text-anchor="end" fill="#111" stroke="#111" stroke-width="0.25">10<tspan font-size="6.8" dy="-3.2">-8</tspan></text>
<text x="36.60" y="316.60" font-size="10" text-anchor="end" fill="#111" stroke="#111" stroke-width="0.25">10<tspan font-size="6.8" dy="-3.2">-14</tspan></text>
<text x="322.00" y="183.40" font-size="10" text-anchor="start" fill="#111" stroke="#111" stroke-width="0.25">10<tspan font-size="6.8" dy="-3.2">4</tspan></text>
<text x="322.00" y="227.60" font-size="10" text-anchor="start" fill="#111" stroke="#111" stroke-width="0.25">10<tspan font-size="6.8" dy="-3.2">-2</tspan></text>
<text x="322.00" y="271.40" font-size="10" text-anchor="start" fill="#111" stroke="#111" stroke-width="0.25">10<tspan font-size="6.8" dy="-3.2">-8</tspan></text>
<text x="322.00" y="313.40" font-size="10" text-anchor="start" fill="#111" stroke="#111" stroke-width="0.25">10<tspan font-size="6.8" dy="-3.2">-14</tspan></text>
<text x="62.80" y="326.0" font-size="10" text-anchor="middle" fill="#111" stroke="#111" stroke-width="0.25">-1.0</text>
<text x="120.80" y="326.0" font-size="10" text-anchor="middle" fill="#111" stroke="#111" stroke-width="0.25">-0.5</text>
<text x="178.80" y="326.0" font-size="10" text-anchor="middle" fill="#111" stroke="#111" stroke-width="0.25">0.0</text>
<text x="236.80" y="326.0" font-size="10" text-anchor="middle" fill="#111" stroke="#111" stroke-width="0.25">0.5</text>
<text x="294.80" y="326.0" font-size="10" text-anchor="middle" fill="#111" stroke="#111" stroke-width="0.25">1.0</text>
<text x="167.8" y="338.8" font-size="10.4" font-weight="bold" fill="#111" stroke="#111" stroke-width="0.25"><tspan font-style="italic">V</tspan><tspan font-style="italic" font-size="7.2" dy="2.4">ch</tspan><tspan dy="-2.4"> (V)</tspan></text>
<text transform="translate(9.0,247.4) rotate(-90)" font-size="10.8" font-weight="bold" text-anchor="middle" fill="#111" stroke="#111" stroke-width="0.25"><tspan font-style="italic">C</tspan><tspan font-style="italic" font-size="7.4" dy="2.4">q</tspan><tspan dy="-2.4"> (μF/cm</tspan><tspan font-size="7.2" dy="-3.8">2</tspan><tspan dy="3.8">)</tspan></text>
<text transform="translate(354.6,239.8) rotate(-90)" font-size="10.8" font-weight="bold" text-anchor="middle" fill="#111" stroke="#111" stroke-width="0.25"><tspan font-style="italic">C</tspan><tspan font-style="italic" font-size="7.4" dy="2.4">ox</tspan><tspan dy="-2.4"> (μF/cm</tspan><tspan font-size="7.2" dy="-3.8">2</tspan><tspan dy="3.8">)</tspan></text>
<text x="18" y="198.9" font-size="10.4" fill="#d8262a" stroke="#d8262a" stroke-width="0.25">C<tspan font-size="7.8" dy="2.8">dq</tspan></text>
<text x="323.3" y="198.9" font-size="10.4" fill="#d8262a" stroke="#d8262a" stroke-width="0.25">C<tspan font-size="7.8" dy="2.8">dq</tspan></text>
<text x="99" y="195.9" font-size="9.6" font-weight="bold" fill="#84e22a" stroke="#84e22a" stroke-width="0.25">30 nm HfO<tspan font-size="6.6" dy="2.2">2</tspan></text>
<text x="176.4" y="198.4" font-size="9.6" font-weight="bold" fill="#d42ad8" stroke="#d42ad8" stroke-width="0.25">3 nm HfO<tspan font-size="6.6" dy="2.2">2</tspan></text>
<text x="139.8" y="235.6" font-size="9.6" font-weight="bold" fill="#2a2ae6" stroke="#2a2ae6" stroke-width="0.25">300 nm SiO<tspan font-size="6.6" dy="2.2">2</tspan></text>
<line x1="121.4" y1="198.8" x2="121.4" y2="209.3" stroke="#84e22a" stroke-width="1" marker-end="url(#arrg)"/>
<text x="49.2" y="275.5" font-size="10.2" fill="#111" stroke="#111" stroke-width="0.25">VB</text>
<text x="293.4" y="275.6" font-size="10.2" fill="#111" stroke="#111" stroke-width="0.25">CB</text>
<text x="297" y="304.5" font-size="11.2" fill="#111" stroke="#111" stroke-width="0.25">(b)</text>
<text x="166.1" y="285.8" font-size="10.5" fill="#111" stroke="#111" stroke-width="0.25">300 K</text>
<text x="229.8" y="302.6" font-size="10.5" fill="#d8262a" stroke="#d8262a" stroke-width="0.25">77 K</text>
<text x="82.6" y="293.1" font-size="10.2" fill="#111" stroke="#111" stroke-width="0.25">E<tspan font-size="6.8" dy="2.4">v</tspan></text>
<text x="268" y="293.4" font-size="10.2" fill="#111" stroke="#111" stroke-width="0.25">E<tspan font-size="6.8" dy="2.4">c</tspan></text>
<ellipse cx="109.1" cy="249.9" rx="25.5" ry="3.4" fill="none" stroke="#333" stroke-width="1"/>
<line x1="83.6" y1="249.8" x2="61.5" y2="249.6" stroke="#333" stroke-width="1" marker-end="url(#arr)"/>
<ellipse cx="240.4" cy="212.6" rx="5.7" ry="16.7" fill="none" stroke="#333" stroke-width="1"/>
<line x1="240.4" y1="196" x2="269.5" y2="196" stroke="#333" stroke-width="1" marker-end="url(#arr)"/>
<path d="M85,279.4 C85,272 82,267 75.6,266.7" fill="none" stroke="#222" stroke-width="0.9" marker-end="url(#arr)"/>
<path d="M272.4,278.5 C272.4,271 275,266 282,265.7" fill="none" stroke="#222" stroke-width="0.9" marker-end="url(#arr)"/>
</svg></body></html>
